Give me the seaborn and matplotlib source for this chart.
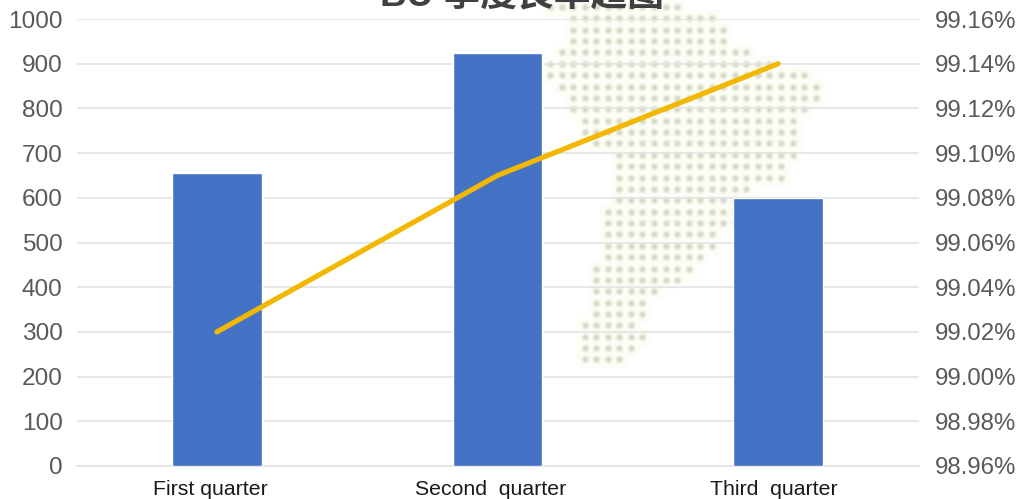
import matplotlib
matplotlib.use("Agg")
import matplotlib.pyplot as plt
import numpy as np
import pandas as pd
import seaborn as sns

# Chart data
quarters = ["First quarter", "Second  quarter", "Third  quarter"]
volume = [655, 925, 600]
yield_pct = [99.02, 99.09, 99.14]
left_ticks = list(range(0, 1001, 100))
right_ticks = [98.96, 98.98, 99.00, 99.02, 99.04, 99.06, 99.08, 99.10, 99.12, 99.14, 99.16]
title = "BU 季度良率趋图"

# Dot-map backdrop: first and last grid column of each row of dots
map_first_col = [0, 2, 2, 2, 1, 0, 0, 1, 2, 2, 3, 3, 4, 6, 6, 6, 6, 6, 5, 5, 5, 5, 5, 4, 4, 4, 4, 4, 3, 3, 3, 3]
map_last_col = [11, 14, 15, 15, 17, 19, 22, 23, 23, 22, 21, 21, 21, 21, 20, 20, 17, 16, 16, 16, 14, 14, 13, 12, 11, 9, 8, 8, 7, 8, 7, 6]

W, H = 1021, 499
sns.set_theme(style="white")
plt.rcParams["font.family"] = ["Liberation Sans", "Noto Sans CJK SC", "DejaVu Sans"]

fig = plt.figure(figsize=(W / 100, H / 100), dpi=100, facecolor="white")

# Backdrop layer in pixel units
bg = fig.add_axes([0, 0, 1, 1], zorder=0)
bg.set_xlim(0, W)
bg.set_ylim(H, 0)
bg.axis("off")
dot_x, dot_y = [], []
for row, (a, b) in enumerate(zip(map_first_col, map_last_col)):
    for col in range(a, b + 1):
        dot_x.append(550 + col * 11.55)
        dot_y.append(7 + row * 11.37)
bg.scatter(dot_x, dot_y, s=170, color="#fcfdf6", linewidths=0, zorder=1)
bg.scatter(dot_x, dot_y, s=42, color="#f3f5e6", linewidths=0, zorder=2)
bg.scatter(dot_x, dot_y, s=20, color="#e3e5d6", linewidths=0, zorder=3)
bg.scatter(dot_x, dot_y, s=8, color="#d6d8ca", linewidths=0, zorder=4)

# Bars on the left axis
ax = fig.add_axes([76.5 / W, 1 - 466 / H, 842 / W, 447 / H], zorder=1)
ax.patch.set_alpha(0)
df = pd.DataFrame({"quarter": quarters, "volume": volume, "yield": yield_pct})
sns.barplot(data=df, x="quarter", y="volume", color="#4472C4", saturation=1,
            width=0.32, ax=ax, zorder=3)
ax.set_xlim(-0.5, 2.5)
ax.set_ylim(0, 1000)
ax.set_yticks(left_ticks)
ax.set_xlabel("")
ax.set_ylabel("")
ax.grid(axis="y", color="#E3E3E3", linewidth=1.2, zorder=1)
ax.set_axisbelow(True)
ax.tick_params(axis="y", length=0, pad=10, labelsize=17.6, labelcolor="#595959")
ax.set_xticks([0, 1, 2])
ax.set_xticklabels([])
ax.tick_params(axis="x", length=0)
for side in ["top", "right", "left"]:
    ax.spines[side].set_visible(False)
ax.spines["bottom"].set_color("#E3E3E3")
ax.spines["bottom"].set_linewidth(1.2)

# Quarter labels sit slightly left of their bars
for i, (name, shift) in enumerate(zip(quarters, [-5, -5, -3])):
    ax.annotate(name, xy=(i, 0), xycoords=("data", "axes fraction"),
                xytext=(shift, -21), textcoords="offset points",
                ha="center", va="baseline", fontsize=15.3, color="#1a1a1a")

# Yield line on the right axis
ax2 = ax.twinx()
ax2.patch.set_alpha(0)
sns.lineplot(data=df, x="quarter", y="yield", color="#F2B800", linewidth=3.7,
             sort=False, ax=ax2, zorder=4, solid_capstyle="round")
ax2.set_xlim(-0.5, 2.5)
ax2.set_ylim(98.96, 99.16)
ax2.set_yticks(right_ticks)
ax2.set_yticklabels([f"{v:.2f}%" for v in right_ticks])
ax2.set_ylabel("")
ax2.set_xlabel("")
ax2.grid(False)
ax2.tick_params(axis="y", length=0, pad=11.5, labelsize=17.3, labelcolor="#595959")
for spine in ax2.spines.values():
    spine.set_visible(False)

# Title runs off the top edge of the canvas
fig.text(522 / W, 1 - 6 / H, title, ha="center", va="baseline", fontsize=26.5,
         fontweight="bold", color="#404040", zorder=5)

fig.savefig("out.png", dpi=100, facecolor="white")
